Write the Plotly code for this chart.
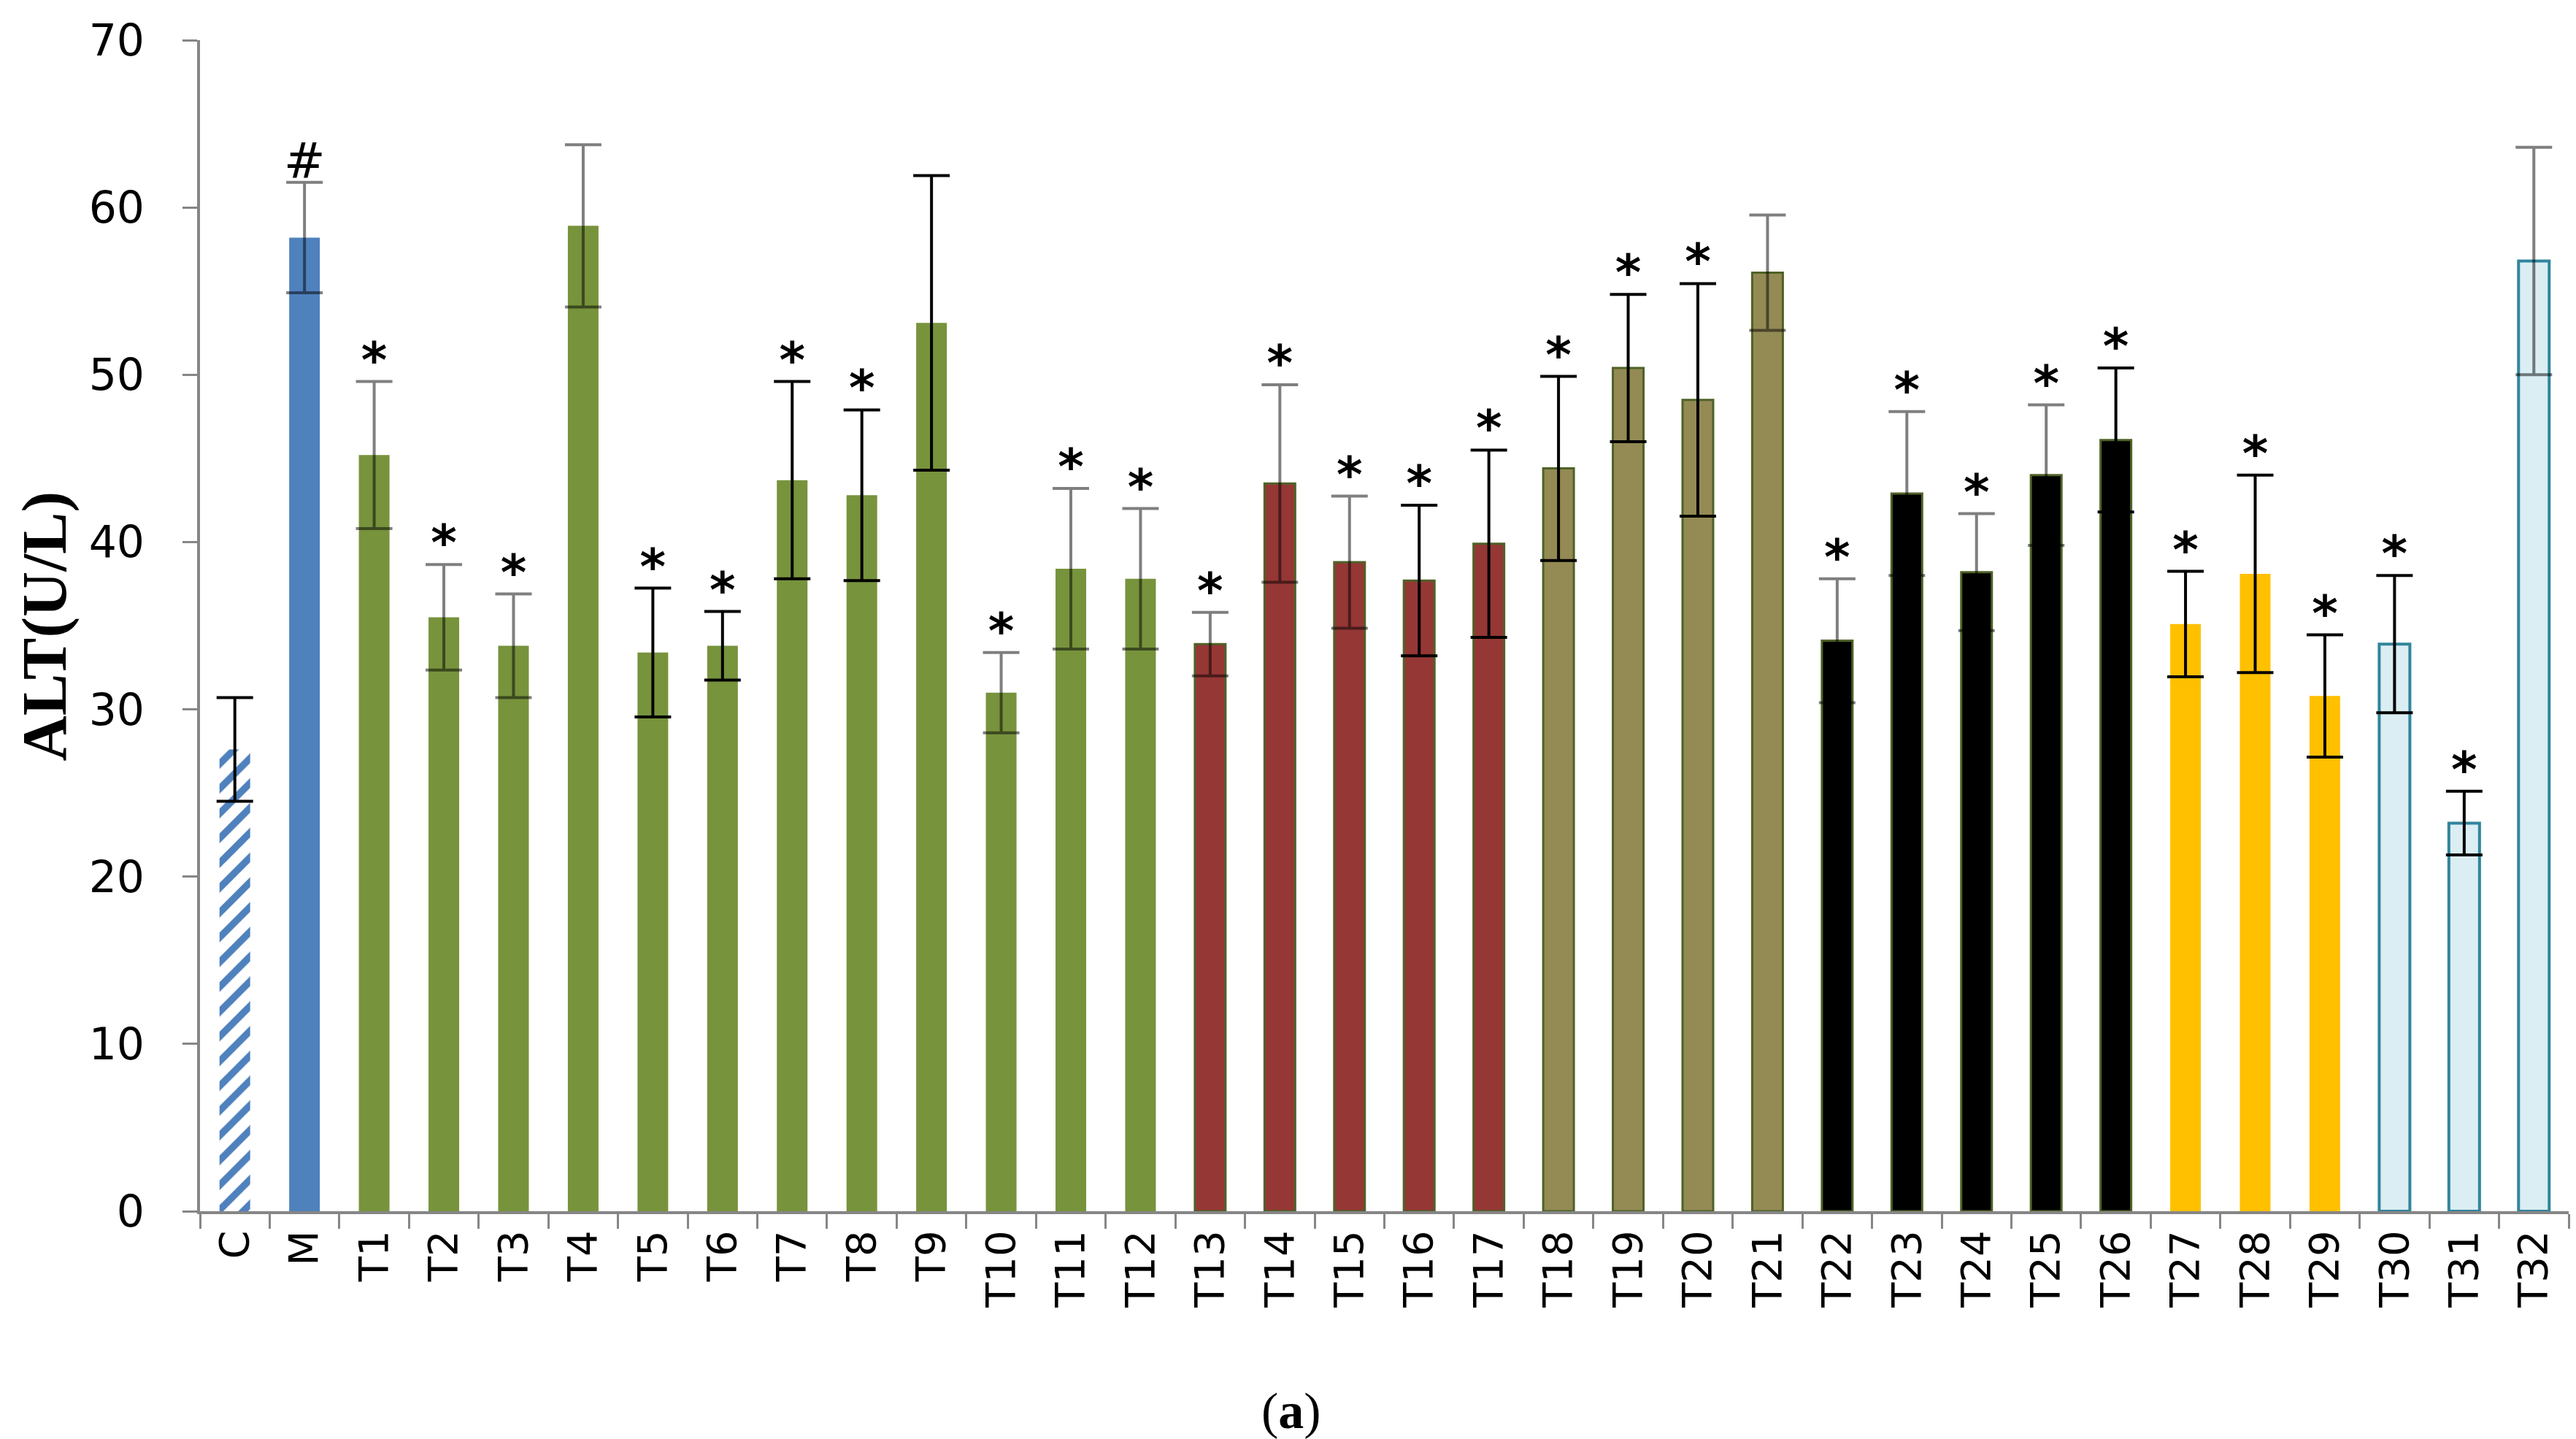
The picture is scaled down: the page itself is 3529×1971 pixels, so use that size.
import plotly.graph_objects as go

# groups: C, M, then treatments T1..T32
categories = ["C", "M"] + ["T%d" % i for i in range(1, 33)]

alt_mean = [27.6, 58.2, 45.2, 35.5, 33.8, 58.9, 33.4, 33.8, 43.7, 42.8,
            53.1, 31.0, 38.4, 37.8, 33.9, 43.5, 38.8, 37.7, 39.9, 44.4,
            50.4, 48.5, 56.1, 34.1, 42.9, 38.2, 44.0, 46.1, 35.1, 38.1,
            30.8, 33.9, 23.2, 56.8]
alt_sd = [3.1, 3.3, 4.4, 3.15, 3.1, 4.85, 3.85, 2.05, 5.9, 5.1,
          8.8, 2.4, 4.8, 4.2, 1.9, 5.9, 3.95, 4.5, 5.6, 5.5,
          4.4, 6.95, 3.45, 3.7, 4.9, 3.5, 4.2, 4.3, 3.15, 5.9,
          3.65, 4.1, 1.9, 6.8]
# significance marks drawn above the error bars
marks = ["", "#", "*", "*", "*", "", "*", "*", "*", "*",
         "", "*", "*", "*", "*", "*", "*", "*", "*", "*",
         "*", "*", "", "*", "*", "*", "*", "*", "*", "*",
         "*", "*", "*", ""]
# error bar stems drawn grey (True) or black (False) in the original
grey_err = [False, True, True, True, True, True, False, False, False, False,
            False, True, True, True, True, True, True, False, False, False,
            False, False, True, True, True, True, True, False, False, False,
            False, False, False, True]

# bar colours by group
fill = (["#4F81BD", "#4F81BD"] + ["#77933C"] * 12 + ["#953735"] * 5 +
        ["#948A54"] * 4 + ["#000000"] * 5 + ["#FFC000"] * 3 + ["#DAEEF3"] * 3)
edge = (["#4F81BD", "#4F81BD"] + ["#77933C"] * 12 + ["#4F6228"] * 14 +
        ["#FFC000"] * 3 + ["#31859C"] * 3)
edge_w = [0] * 14 + [3] * 14 + [0] * 3 + [4] * 3
hatch = ["/"] + [""] * 33

fig = go.Figure()

fig.add_trace(go.Bar(
    x=categories, y=alt_mean, width=0.44,
    marker=dict(color=fill, line=dict(color=edge, width=edge_w),
                pattern=dict(shape=hatch, fillmode="replace",
                             fgcolor=fill, bgcolor=["white"] * len(fill),
                             fgopacity=1, size=24, solidity=0.4)),
    showlegend=False, hoverinfo="x+y"))

# error bars, split by stem colour
for flag, col in [(True, "rgba(0,0,0,0.5)"), (False, "black")]:
    xs = [c for c, g in zip(categories, grey_err) if g == flag]
    ys = [m for m, g in zip(alt_mean, grey_err) if g == flag]
    es = [s for s, g in zip(alt_sd, grey_err) if g == flag]
    fig.add_trace(go.Scatter(
        x=xs, y=ys, mode="markers", marker=dict(size=1, opacity=0),
        error_y=dict(type="data", array=es, visible=True, color=col,
                     thickness=4, width=25),
        showlegend=False, hoverinfo="skip"))

# # and * labels (stars bold, hash plain)
top = [m + s + 1.0 for m, s in zip(alt_mean, alt_sd)]
fig.add_trace(go.Scatter(
    x=categories, y=top, mode="text",
    text=["<b>*</b>" if t == "*" else t for t in marks],
    textposition="middle center",
    textfont=dict(family="DejaVu Sans", size=68, color="black"),
    showlegend=False, hoverinfo="skip"))

fig.add_annotation(text="<b>ALT(U/L)</b>", xref="paper", yref="paper",
                   x=-0.0655, y=0.5, xanchor="center", yanchor="middle",
                   textangle=-90, showarrow=False,
                   font=dict(family="Liberation Serif", size=86, color="black"))
fig.add_annotation(text="(<b>a</b>)", xref="paper", yref="paper",
                   x=0.4607, y=-0.1705, xanchor="center", yanchor="middle",
                   showarrow=False,
                   font=dict(family="Liberation Serif", size=70, color="black"))

fig.update_layout(
    width=3529, height=1971,
    margin=dict(l=266, r=18, t=38, b=320),
    plot_bgcolor="white", paper_bgcolor="white",
    bargap=0.56,
    xaxis=dict(type="category", range=[-0.5, 33.5], tickangle=-90,
               tickson="boundaries",
               ticks="outside", ticklen=20, tickwidth=3, tickcolor="#868686",
               showline=True, linecolor="#868686", linewidth=4,
               showgrid=False, tickfont=dict(family="DejaVu Sans", size=56,
                                             color="black")),
    yaxis=dict(range=[0, 70], dtick=10, ticks="outside", ticklen=20,
               tickwidth=3, tickcolor="#868686", showline=True,
               linecolor="#868686", linewidth=4, showgrid=False,
               zeroline=False, ticklabelstandoff=40,
               tickfont=dict(family="DejaVu Sans", size=60, color="black")),
)

fig.write_html("out.html")
